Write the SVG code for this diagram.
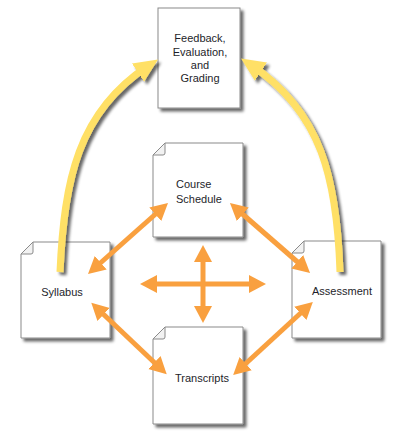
<svg xmlns="http://www.w3.org/2000/svg" width="409" height="441" viewBox="0 0 409 441">
<style>
.box{fill:#fff;stroke:#8a8a8a;stroke-width:1;filter:url(#sh)}
.fold{fill:#f2f2f2;stroke:#8a8a8a;stroke-width:1}
.lbl{font-family:"Liberation Sans",Arial,sans-serif;font-size:11px;fill:#1e1e2a}
.or{stroke:#F9A03F;stroke-width:5;fill:none;marker-start:url(#oh);marker-end:url(#oh)}
.ye{stroke:#FFE066;stroke-width:7;fill:none;marker-end:url(#yh);filter:url(#sh)}
</style>
<defs>
<filter id="sh" x="-20%" y="-20%" width="150%" height="150%">
<feGaussianBlur in="SourceAlpha" stdDeviation="1.5"/>
<feOffset dx="3" dy="3" result="o"/>
<feComponentTransfer><feFuncA type="linear" slope="0.6"/></feComponentTransfer>
<feMerge><feMergeNode/><feMergeNode in="SourceGraphic"/></feMerge>
</filter>
<marker id="oh" markerUnits="userSpaceOnUse" markerWidth="18" markerHeight="20" refX="5" refY="9" orient="auto-start-reverse" viewBox="0 0 18 18">
<path d="M0,0 L17,9 L0,18 z" fill="#F9A03F"/>
</marker>
<marker id="yh" markerUnits="userSpaceOnUse" markerWidth="26" markerHeight="24" refX="12" refY="11" orient="auto" viewBox="0 0 26 22">
<path d="M0,0 L24,11 L0,22 z" fill="#FFE066"/>
</marker>
</defs>

<g id="feedback">
<rect class="box" x="158" y="8" width="82" height="100"/>
<text class="lbl" text-anchor="middle" x="200" y="42">Feedback,</text>
<text class="lbl" text-anchor="middle" x="200" y="56">Evaluation,</text>
<text class="lbl" text-anchor="middle" x="200" y="69">and</text>
<text class="lbl" text-anchor="middle" x="200" y="82">Grading</text>
</g>

<g id="syllabus">
<path class="box" d="M33 242 L110 242 L110 338 L21 338 L21 254 Z"/>
<path class="fold" d="M33 242 L33 252 Q33 254 31 254 L21 254 Z"/>
<text class="lbl" text-anchor="middle" x="62" y="296">Syllabus</text>
</g>

<g id="course-schedule">
<path class="box" d="M165 143 L243 143 L243 237 L153 237 L153 155 Z"/>
<path class="fold" d="M165 143 L165 153 Q165 155 163 155 L153 155 Z"/>
<text class="lbl" x="176" y="188">Course</text>
<text class="lbl" x="176" y="203">Schedule</text>
</g>

<g id="assessment">
<path class="box" d="M304 241 L381 241 L381 338 L292 338 L292 253 Z"/>
<path class="fold" d="M304 241 L304 251 Q304 253 302 253 L292 253 Z"/>
<text class="lbl" text-anchor="middle" x="342" y="295">Assessment</text>
</g>

<g id="transcripts">
<path class="box" d="M165 327 L243 327 L243 424 L153 424 L153 339 Z"/>
<path class="fold" d="M165 327 L165 337 Q165 339 163 339 L153 339 Z"/>
<text class="lbl" text-anchor="middle" x="202" y="382">Transcripts</text>
</g>

<g id="connectors">
<path class="ye" d="M60 272 C64 180 78 112 148 66"/>
<path class="ye" d="M340 272 C337 180 322 112 251 65"/>
<line class="or" x1="97" y1="266" x2="159" y2="211"/>
<line class="or" x1="239" y1="211" x2="301" y2="265"/>
<line class="or" x1="100" y1="311" x2="158" y2="366"/>
<line class="or" x1="304" y1="310" x2="242" y2="367"/>
<line class="or" x1="152" y1="284" x2="254" y2="284"/>
<line class="or" x1="203" y1="257" x2="203" y2="311"/>
</g>
</svg>
